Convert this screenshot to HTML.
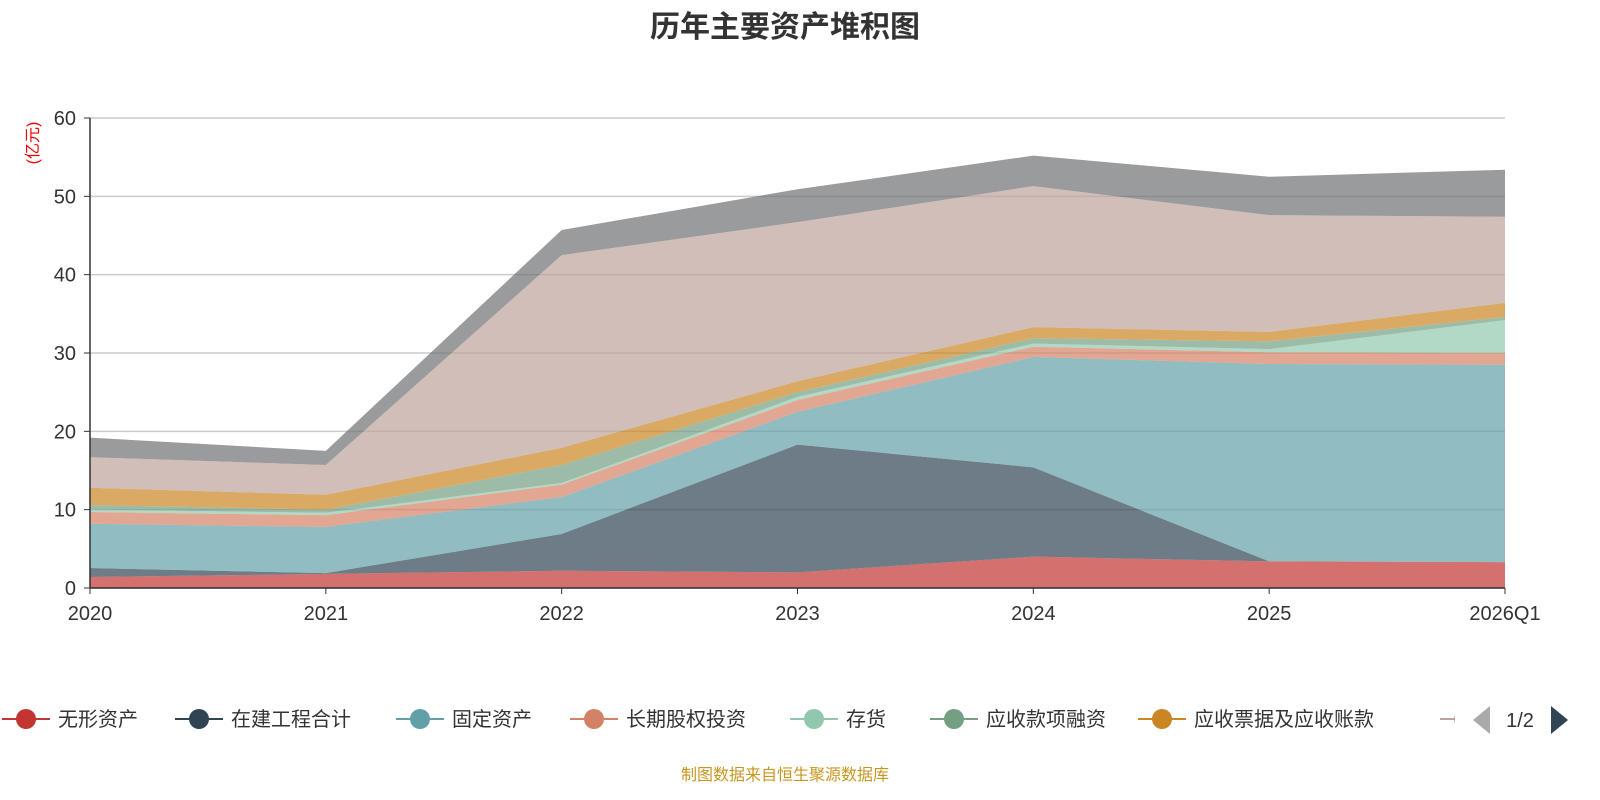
<!DOCTYPE html>
<html><head><meta charset="utf-8">
<style>
body{margin:0;background:#fff;font-family:"Liberation Sans","Noto Sans CJK SC",sans-serif;}
#wrap{position:relative;width:1600px;height:800px;overflow:hidden;}
</style></head>
<body><div id="wrap">
<svg id="chart" width="1600" height="800"></svg>
</div>
<script>
const categories=["2020","2021","2022","2023","2024","2025","2026Q1"];
const seriesNames=["无形资产","在建工程合计","固定资产","长期股权投资","存货","应收款项融资","应收票据及应收账款","货币资金","其他"];
const s0=[1.4,1.8,2.2,2.0,4.0,3.4,3.3];
const s1=[1.15,0.1,4.7,16.3,11.4,0.0,0.0];
const s2=[5.65,5.9,4.7,4.2,14.1,25.2,25.2];
const s3=[1.5,1.5,1.6,1.5,1.3,1.5,1.5];
const s4=[0.3,0.3,0.2,0.4,0.4,0.4,4.2];
const s5=[0.6,0.4,2.3,0.6,0.7,1.0,0.4];
const s6=[2.2,1.9,2.2,1.4,1.4,1.2,1.8];
const s7=[3.9,3.8,24.6,20.3,18.0,14.9,11.0];
const s8=[2.5,1.8,3.2,4.2,3.9,4.9,6.0];
const allSeries=[s0,s1,s2,s3,s4,s5,s6,s7,s8];
const colors=["#c23531","#2f4554","#61a0a8","#d48265","#91c7ae","#749f83","#ca8622","#bda29a","#6e7074"];
const yTicks=[0,10,20,30,40,50,60];
const NS="http://www.w3.org/2000/svg";
const svg=document.getElementById('chart');
const x0=90,x1=1505,yb=588,yt=118,ymax=60;
const xs=i=>x0+(x1-x0)*i/(categories.length-1);
const ys=v=>yb-(yb-yt)*v/ymax;
function mk(t,a){const e=document.createElementNS(NS,t);for(const k in a)e.setAttribute(k,a[k]);svg.appendChild(e);return e;}
let t=mk('text',{x:785,y:37,'text-anchor':'middle','font-size':30,'font-weight':'bold',fill:'#333'});t.textContent='历年主要资产堆积图';

yTicks.forEach(v=>{
 const l=mk('line',{x1:x0,x2:x1,y1:ys(v),y2:ys(v),stroke:'#ccc','stroke-width':1.5});
 
 mk('line',{x1:x0-6,x2:x0,y1:ys(v),y2:ys(v),stroke:'#333'});
 const tx=mk('text',{x:x0-14,y:ys(v)+7,'text-anchor':'end','font-size':20,fill:'#333'});tx.textContent=v;
 
});
let u=mk('text',{x:38,y:143,'font-size':16,fill:'#e00','text-anchor':'middle',transform:'rotate(-90 38 143)'});u.textContent='(亿元)';

let cum=categories.map(()=>0);
allSeries.forEach((s,k)=>{
 const lo=cum.slice();cum=cum.map((c,i)=>c+s[i]);
 let d='M'+categories.map((c,i)=>xs(i)+','+ys(cum[i])).join(' L');
 for(let i=categories.length-1;i>=0;i--)d+=' L'+xs(i)+','+ys(lo[i]);
 const p=mk('path',{d:d+'Z',fill:colors[k],'fill-opacity':0.7});
 
});
mk('line',{x1:x0,x2:x0,y1:yt,y2:yb,stroke:'#333','stroke-width':1.5});
mk('line',{x1:x0,x2:x1,y1:yb,y2:yb,stroke:'#333','stroke-width':1.5});
categories.forEach((c,i)=>{
 mk('line',{x1:xs(i),x2:xs(i),y1:yb,y2:yb+6,stroke:'#333'});
 const tx=mk('text',{x:xs(i),y:620,'text-anchor':'middle','font-size':20,fill:'#333'});tx.textContent=c;
 
});
const lx=[2,175,396,570,790,930,1138,1440];
lx.forEach((x,k)=>{
 const g=document.createElementNS(NS,'g');svg.appendChild(g);
 
 const ln=document.createElementNS(NS,'line');
 [['x1',x],['x2',x+48],['y1',719],['y2',719],['stroke',colors[k]],['stroke-width',2]].forEach(a=>ln.setAttribute(a[0],a[1]));g.appendChild(ln);
 const ci=document.createElementNS(NS,'circle');
 [['cx',x+24],['cy',719],['r',10],['fill',colors[k]]].forEach(a=>ci.setAttribute(a[0],a[1]));g.appendChild(ci);
 if(k<7){const tx=document.createElementNS(NS,'text');
 [['x',x+56],['y',726],['font-size',20],['fill','#333']].forEach(a=>tx.setAttribute(a[0],a[1]));tx.textContent=seriesNames[k];g.appendChild(tx);}
});
mk('rect',{x:1455,y:700,width:145,height:40,fill:'#fff'});
mk('path',{d:'M1490,706 L1473,720 L1490,734Z',fill:'#aaa'});
let pg=mk('text',{x:1520,y:727,'text-anchor':'middle','font-size':20,fill:'#333'});pg.textContent='1/2';

let nx=mk('path',{d:'M1551,706 L1568,720 L1551,734Z',fill:'#2f4554'});

let src=mk('text',{x:785,y:780,'text-anchor':'middle','font-size':16,fill:'#c8961e'});src.textContent='制图数据来自恒生聚源数据库';

</script></body></html>
